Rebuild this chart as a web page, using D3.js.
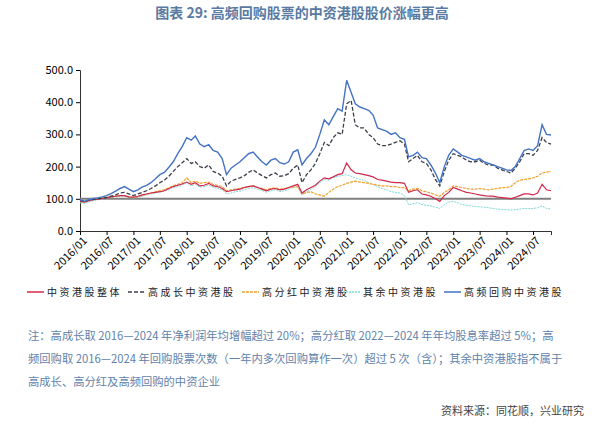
<!DOCTYPE html>
<html><head><meta charset="utf-8">
<script src="https://cdn.jsdelivr.net/npm/d3@7"></script>
<style>body{margin:0;background:#fff;} text{font-family:"Noto Sans CJK SC","Liberation Sans",sans-serif;}</style>
</head><body>
<svg id="chart" width="604" height="423"></svg>
<script>
// monthly values, 2016/01 .. 2024/11
const startMonth = new Date(2016, 0, 1);
const seriesNames = ["中资港股整体", "高成长中资港股", "高分红中资港股", "其余中资港股", "高频回购中资港股"];
const overall = [92,90,94,97,99,101,103,106,108,110,110,106, 105,108,112,115,118,120,122,125,132,138,142,146,
  152,145,150,140,142,148,140,138,132,122,125,128, 130,135,138,140,135,130,125,130,132,128,130,135,
  140,145,118,128,135,142,155,165,162,168,175,178, 211,190,180,178,175,172,168,160,158,155,152,150,
  150,148,120,125,128,115,112,108,100,92,110,120, 135,130,125,120,118,115,112,110,108,108,105,104,
  102,100,105,110,115,115,112,118,145,128,125];
const growth = [95,92,95,98,100,102,104,108,112,118,120,115, 110,115,120,125,132,140,150,158,170,185,200,212,
  225,210,215,200,195,205,185,180,170,140,155,160, 165,172,182,190,180,172,165,175,180,170,172,178,
  195,205,150,175,190,210,240,275,265,290,305,300, 395,405,330,320,320,300,290,270,265,265,270,275,
  280,270,215,225,235,215,210,190,160,140,185,220, 240,235,230,220,215,215,220,210,205,205,195,190,
  185,180,195,215,240,240,235,250,290,275,270];
const dividend = [92,90,94,97,100,102,104,106,108,110,110,106, 104,106,110,114,118,122,125,128,135,140,145,150,
  165,150,155,148,150,152,145,142,138,125,128,130, 132,136,138,140,136,132,128,132,134,130,132,135,
  136,138,115,120,122,115,112,108,120,130,138,142, 148,152,155,152,150,148,145,142,140,140,138,138,
  135,135,125,130,132,125,122,118,112,108,120,128, 140,138,135,132,130,130,132,130,128,130,132,135,
  135,138,150,158,160,162,165,170,180,183,185];
const others = [88,85,90,94,97,100,102,104,106,108,108,104, 102,105,108,112,115,118,120,124,128,134,138,142,
  150,140,145,136,138,142,136,132,128,115,118,122, 124,128,132,134,130,126,120,125,128,122,125,130,
  135,140,112,122,130,138,150,160,158,165,170,172, 175,170,165,160,158,150,145,138,132,128,122,120,
  118,110,82,85,88,82,80,78,74,70,82,90, 92,88,82,80,78,76,75,74,72,70,68,67,
  66,65,66,68,70,70,70,72,78,70,68];
const buyback = [97,93,97,101,103,106,110,116,124,132,138,130, 122,128,136,142,150,162,175,182,198,215,240,262,
  290,282,295,270,262,268,250,245,225,175,195,205, 215,228,240,245,230,215,205,220,225,212,208,215,
  245,252,205,225,240,260,300,345,330,355,380,372, 468,430,395,385,380,375,360,320,315,310,300,305,
  290,285,230,235,245,228,225,205,180,150,200,235, 255,245,235,230,225,220,225,215,210,205,200,195,
  190,188,200,225,250,255,250,265,330,300,298];
const yTicks = [0, 100, 200, 300, 400, 500];

const svg = d3.select("#chart");
const dateOf = i => d3.timeMonth.offset(startMonth, i);
const x = d3.scaleTime().domain([startMonth, dateOf(overall.length - 1)]).range([80, 551]);
const y = d3.scaleLinear().domain([0, 500]).range([231, 70]);

svg.append("text").attr("x", 302).attr("y", 18).attr("text-anchor", "middle")
  .attr("font-size", 14).attr("font-weight", "bold").attr("fill", "#587aa3")
  .text("图表 29: 高频回购股票的中资港股股价涨幅更高");

// y axis
const yAxis = svg.append("g").attr("transform", "translate(80,0)")
  .call(d3.axisLeft(y).tickValues(yTicks).tickFormat(d3.format(".1f")).tickSize(4));
yAxis.selectAll("text").attr("font-family", "Liberation Sans").attr("font-size", 11).attr("fill", "#000");
yAxis.select(".domain").attr("stroke", "#333");

// x axis
const xTicks = d3.range(0, overall.length, 6).map(dateOf);
const xAxis = svg.append("g").attr("transform", "translate(0,231)")
  .call(d3.axisBottom(x).tickValues(xTicks).tickFormat(d3.timeFormat("%Y/%m")).tickSize(4));
xAxis.select(".domain").attr("stroke", "#333");
xAxis.selectAll("text").attr("font-family", "Liberation Serif").attr("font-size", 11).attr("fill", "#000")
  .attr("text-anchor", "end").attr("dx", "-0.2em").attr("dy", "0.5em").attr("transform", "rotate(-45)");

// baseline 100
svg.append("line").attr("x1", x.range()[0]).attr("x2", x.range()[1])
  .attr("y1", y(100)).attr("y2", y(100)).attr("stroke", "#7f7f7f").attr("stroke-width", 2);

const line = d3.line().x((d, i) => x(dateOf(i))).y(d => y(d));
const series = [
  {name: seriesNames[3], values: others, color: "#7fd8d8", dash: "2,1", w: 1},
  {name: seriesNames[2], values: dividend, color: "#f0a030", dash: "3,1", w: 1.2},
  {name: seriesNames[0], values: overall, color: "#d0284a", dash: null, w: 1.2},
  {name: seriesNames[1], values: growth, color: "#3b3f4a", dash: "4,2", w: 1.3},
  {name: seriesNames[4], values: buyback, color: "#4472c4", dash: null, w: 1.4}
];
svg.selectAll("path.s").data(series).enter().append("path").attr("class", "s")
  .attr("d", d => line(d.values)).attr("fill", "none")
  .attr("stroke", d => d.color).attr("stroke-width", d => d.w)
  .attr("stroke-dasharray", d => d.dash);

// legend
const legendOrder = [2, 3, 1, 0, 4];
const legendX = [27, 128, 242, 343, 444];
const lg = svg.selectAll("g.lg").data(legendOrder.map(i => series[i])).enter().append("g")
  .attr("class", "lg").attr("transform", (d, i) => `translate(${legendX[i]},292)`);
lg.append("line").attr("x1", 0).attr("x2", 17).attr("stroke", d => d.color)
  .attr("stroke-width", 1.5).attr("stroke-dasharray", d => d.dash);
lg.append("text").attr("x", 20).attr("y", 4).attr("font-size", 10).attr("letter-spacing", 2.5)
  .attr("fill", "#222").text(d => d.name);

// notes
const notes = ["注：高成长取 2016—2024 年净利润年均增幅超过 20%；高分红取 2022—2024 年年均股息率超过 5%；高",
  "频回购取 2016—2024 年回购股票次数（一年内多次回购算作一次）超过 5 次（含）；其余中资港股指不属于",
  "高成长、高分红及高频回购的中资企业"];
svg.selectAll("text.note").data(notes).enter().append("text").attr("class", "note")
  .attr("x", 28).attr("y", (d, i) => 340 + i * 23).attr("font-size", 11.3).attr("fill", "#5f82aa").text(d => d);
svg.append("text").attr("x", 584).attr("y", 415).attr("text-anchor", "end")
  .attr("font-size", 11).attr("fill", "#444").text("资料来源：同花顺，兴业研究");
</script>
</body></html>
